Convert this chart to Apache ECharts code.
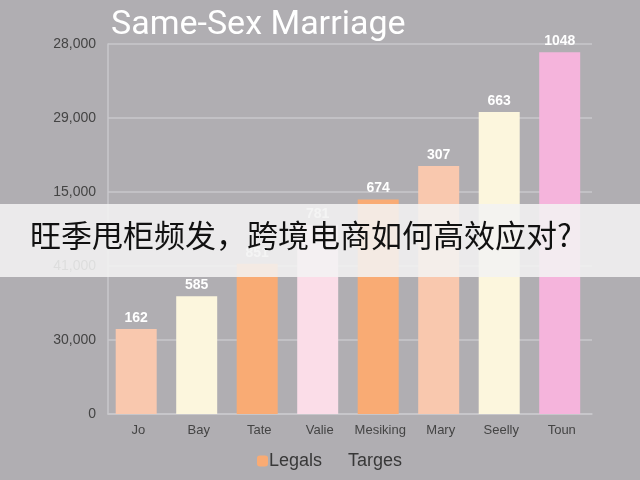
<!DOCTYPE html>
<html>
<head>
<meta charset="utf-8">
<script src="https://cdn.jsdelivr.net/npm/echarts@6/dist/echarts.min.js"></script>
<style>
  html, body { margin: 0; padding: 0; background: #b0aeb2; }
  #chart { width: 640px; height: 480px; }
</style>
</head>
<body>
<div id="chart"></div>
<script>
// categories and values
const categories = ['Jo', 'Bay', 'Tate', 'Valie', 'Mesiking', 'Mary', 'Seelly', 'Toun'];
const values = [11500, 15900, 20300, 25500, 29000, 33500, 40800, 48900];
const barLabels = ['162', '585', '851', '781', '674', '307', '663', '1048'];
const tickLabels = ['0', '30,000', '41,000', '15,000', '29,000', '28,000'];
const colors = ['#f9c8ae', '#fcf6dd', '#f9ab74', '#fbdde8', '#f9ab74', '#f9c8ae', '#fcf6dd', '#f5b4dc'];

const data = values.map((v, i) => ({ value: v, itemStyle: { color: colors[i] } }));

const option = {
  backgroundColor: '#b0aeb2',
  title: {
    text: 'Same-Sex Marriage',
    left: 106,
    top: 3,
    textStyle: { color: '#ffffff', fontSize: 34, fontWeight: 'normal', fontFamily: 'Roboto' },
  },
  legend: {
    bottom: 5,
    left: 252,
    itemWidth: 11,
    itemHeight: 11,
    itemGap: 14,
    textStyle: { color: '#383838', fontSize: 18, fontFamily: 'Liberation Sans', padding: [0, 0, 0, -4] },
    data: ['Legals', 'Targes'],
  },
  grid: { left: 108, right: 48, top: 44, bottom: 66 },
  xAxis: {
    type: 'category',
    data: categories,
    axisTick: { show: false },
    axisLine: { lineStyle: { color: '#c9c7cb', width: 1.5 } },
    axisLabel: { color: '#444', fontSize: 13, margin: 10, interval: 0, fontFamily: 'Liberation Sans' },
  },
  yAxis: {
    type: 'value',
    min: 0,
    max: 50000,
    interval: 10000,
    axisLine: { show: true, lineStyle: { color: '#c9c7cb', width: 1.5 } },
    axisTick: { show: false },
    splitLine: { lineStyle: { color: '#c9c7cb', width: 1.5 } },
    axisLabel: {
      color: '#444',
      fontSize: 14,
      margin: 12,
      fontFamily: 'Liberation Sans',
      formatter: v => tickLabels[Math.round(v / 10000)],
    },
  },
  series: [{
    name: 'Legals',
    type: 'bar',
    barWidth: 41,
    itemStyle: { color: '#f9ab74' },
    data,
    label: {
      show: true,
      position: 'top',
      distance: 4,
      color: '#ffffff',
      fontSize: 14,
      fontWeight: 'bold',
      fontFamily: 'Liberation Sans',
      formatter: p => barLabels[p.dataIndex],
    },
  }, {
    name: 'Targes',
    type: 'bar',
    itemStyle: { color: 'rgba(0,0,0,0)' },
    data: [],
  }],
  graphic: [{
    type: 'rect',
    left: 0,
    top: 204,
    shape: { width: 640, height: 73 },
    style: { fill: 'rgba(242,242,242,0.88)' },
    z: 100,
  }, {
    type: 'text',
    left: 30,
    top: 220,
    style: {
      text: '旺季甩柜频发，跨境电商如何高效应对?',
      fill: '#111111',
      font: '31px "Noto Sans CJK SC"',
    },
    z: 101,
  }],
};

const chart = echarts.init(document.getElementById('chart'));
chart.setOption(option);
</script>
</body>
</html>
